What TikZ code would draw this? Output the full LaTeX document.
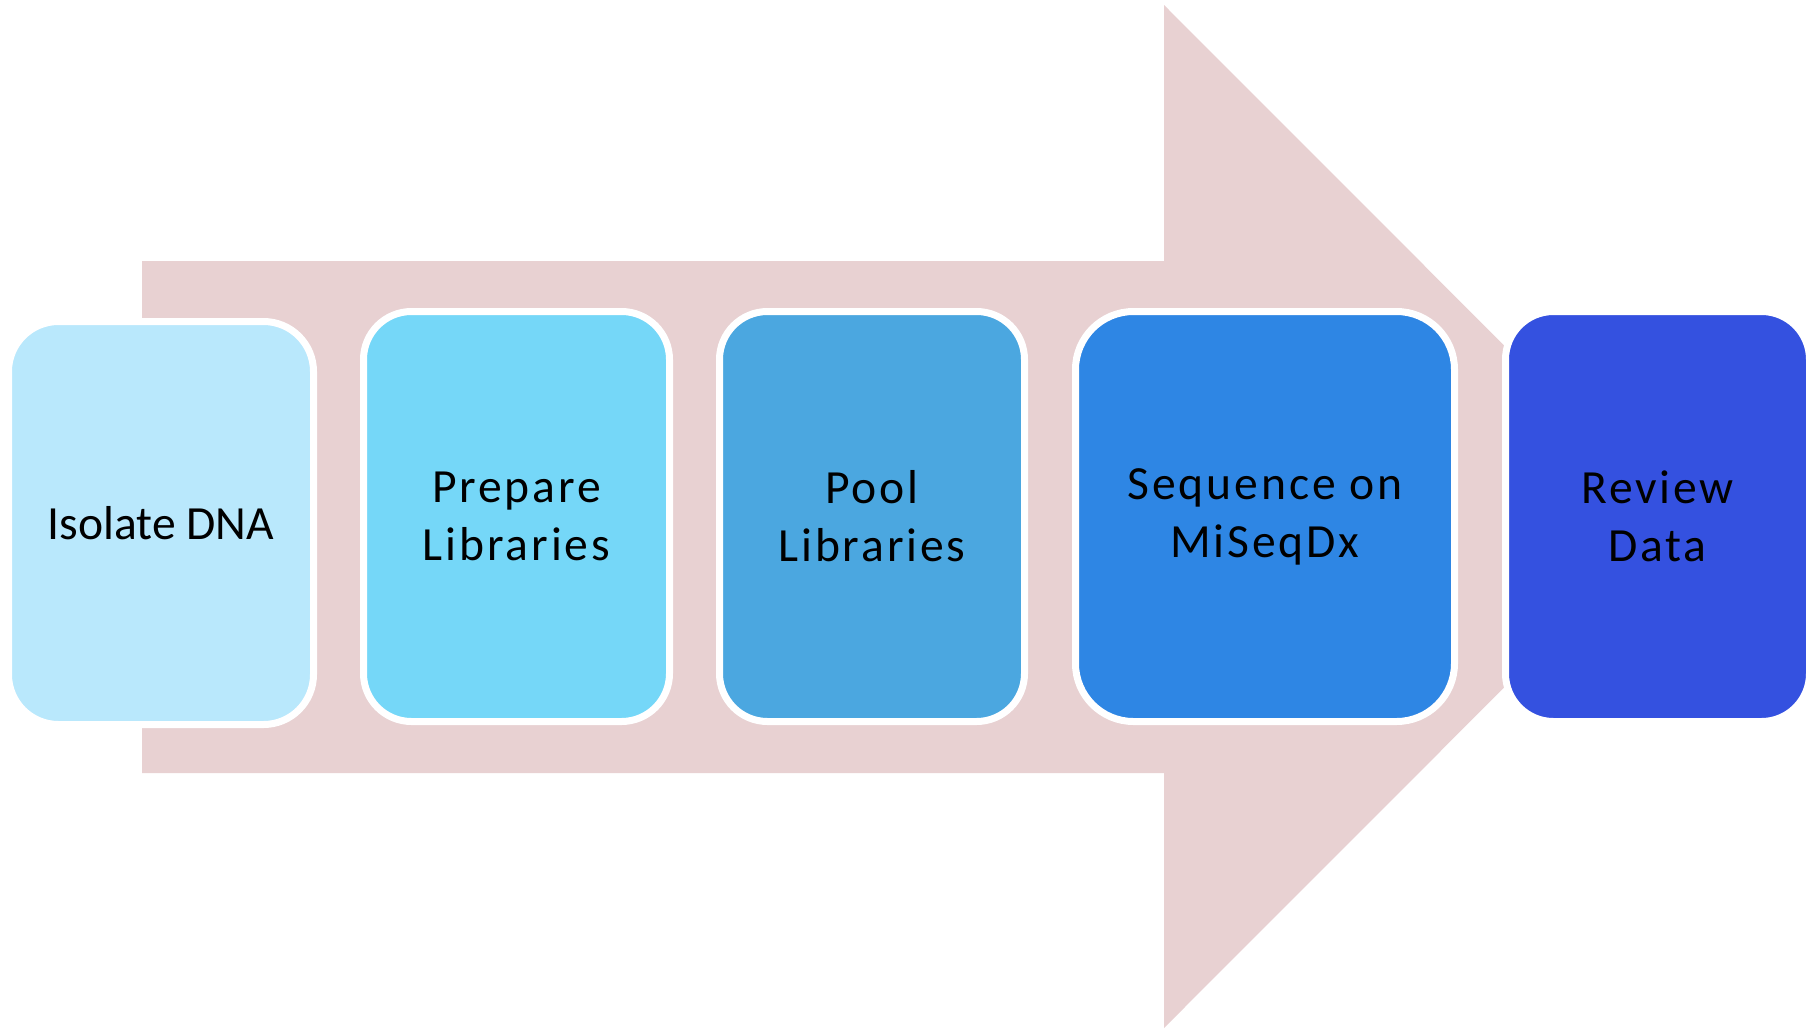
\documentclass[tikz,border=0pt]{standalone}
\usepackage{fontspec}
\setmainfont{Carlito}
\newfontfamily\widefont{Carlito}[LetterSpace=6]
\usetikzlibrary{positioning}
\definecolor{arrowpink}{RGB}{232, 209, 210}
\definecolor{stepA}{RGB}{185, 232, 252}
\definecolor{stepB}{RGB}{117, 215, 248}
\definecolor{stepC}{RGB}{75, 167, 224}
\definecolor{stepD}{RGB}{46, 134, 228}
\definecolor{stepE}{RGB}{52, 81, 224}

\begin{document}
\begin{tikzpicture}[
    x=0.5pt, y=-0.5pt,
    node distance=25pt,
    stepbox/.style={rectangle, rounded corners=24pt, draw=white, line width=3.5pt, outer sep=0pt,
        minimum width=152.5pt, minimum height=205pt, align=center, text=black,
        font=\widefont\fontsize{23.8}{29}\selectfont}
]
\useasboundingbox (0,0) rectangle (1812,1029);

% Background arrow
\fill[arrowpink] (142,261) -- (1164,261) -- (1164,5) -- (1675,516.5) -- (1164,1028) -- (1164,773) -- (142,773) -- cycle;

% Steps
\node[stepbox, fill=stepB, minimum width=153pt] (prepare) at (516.5,516.5) {Prepare\\Libraries};
\node[stepbox, fill=stepA, minimum height=201.5pt, rounded corners=25pt, left=25pt of prepare, yshift=-3.25pt,
    font=\fontsize{23.8}{29}\selectfont] (isolate) {Isolate DNA};
\node[stepbox, fill=stepC, right=25pt of prepare] (pool) {Pool\\Libraries};
\node[stepbox, fill=stepD, minimum width=189.5pt, rounded corners=29pt, right=25.5pt of pool] (sequence) {Sequence on\\MiSeqDx};
\node[stepbox, fill=stepE, minimum width=152pt, right=25.5pt of sequence] (review) {Review\\Data};

\end{tikzpicture}
\end{document}
